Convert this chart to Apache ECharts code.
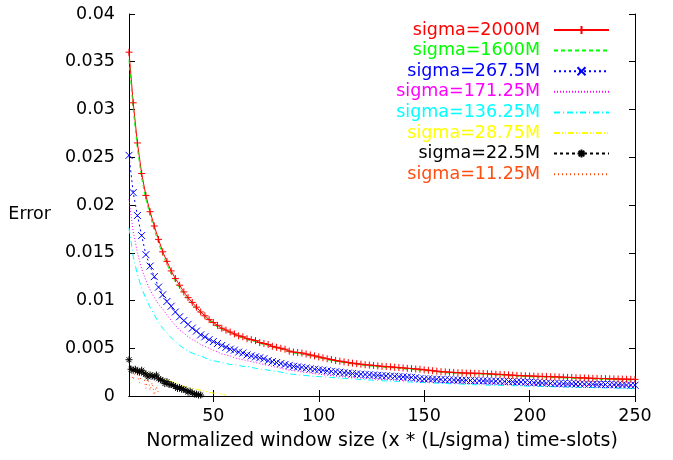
<!DOCTYPE html>
<html lang="en">
<head>
  <meta charset="UTF-8">
  <title>Error vs normalized window size</title>
  <script src="https://cdn.jsdelivr.net/npm/echarts@6.0.0/dist/echarts.min.js"></script>
  <style>
    html, body, #chart {
      width: 100%;
      height: 100%;
      margin: 0;
      padding: 0;
      background: #fff;
    }
  </style>
</head>
<body>
  <div id="chart"></div>
  <script>
    // x positions shared by the five large-sigma runs
    const xMain = [10, 12, 14, 16, 18, 20, 22, 24, 26, 28, 30, 32, 34, 36, 38, 40, 42, 44, 46, 48,
      50, 52, 54, 56, 58, 60, 62, 64, 66, 68, 70, 72, 74, 76, 78, 80, 82, 84, 86, 88,
      90, 92, 94, 96, 98, 100, 102, 104, 106, 108, 110, 112, 114, 116, 118, 120, 122, 124, 126, 128,
      130, 132, 134, 136, 138, 140, 142, 144, 146, 148, 150, 152, 154, 156, 158, 160, 162, 164, 166, 168,
      170, 172, 174, 176, 178, 180, 182, 184, 186, 188, 190, 192, 194, 196, 198, 200, 202, 204, 206, 208,
      210, 212, 214, 216, 218, 220, 222, 224, 226, 228, 230, 232, 234, 236, 238, 240, 242, 244, 246, 248, 250];

    const err2000 = [0.0360, 0.0307, 0.0265, 0.0233, 0.0210, 0.0193, 0.0178, 0.0164, 0.0151, 0.0141,
      0.0131, 0.0123, 0.0116, 0.0109, 0.0103, 0.0098, 0.0093, 0.0088, 0.0084, 0.0080,
      0.0077, 0.0074, 0.0071, 0.0069, 0.0067, 0.0065, 0.0063, 0.0062, 0.0060, 0.0059,
      0.0058, 0.0056, 0.0055, 0.0054, 0.0052, 0.0051, 0.0050, 0.0049, 0.0047, 0.0046,
      0.00455, 0.0045, 0.0044, 0.0043, 0.0042, 0.0041, 0.0040, 0.0039, 0.00382, 0.00372,
      0.00365, 0.00358, 0.0035, 0.00344, 0.00338, 0.00333, 0.00328, 0.00324, 0.0032, 0.00315,
      0.00311, 0.00308, 0.00305, 0.00301, 0.00298, 0.00294, 0.0029, 0.00287, 0.00283, 0.0028,
      0.00274, 0.0027, 0.00265, 0.0026, 0.00255, 0.00252, 0.00249, 0.00247, 0.00244, 0.00242,
      0.0024, 0.00239, 0.00238, 0.00237, 0.00235, 0.00233, 0.0023, 0.00228, 0.00226, 0.00224,
      0.0022, 0.00218, 0.00215, 0.00213, 0.00211, 0.0021, 0.00208, 0.00206, 0.00205, 0.00204,
      0.00202, 0.00201, 0.00199, 0.00197, 0.00195, 0.00194, 0.00192, 0.0019, 0.00189, 0.00187,
      0.00185, 0.00184, 0.00183, 0.00182, 0.0018, 0.00179, 0.00178, 0.00177, 0.00176, 0.00175, 0.00174];

    const err1600 = [0.0352, 0.0300, 0.0259, 0.0228, 0.0206, 0.0189, 0.0174, 0.0160, 0.0148, 0.0138,
      0.0128, 0.0120, 0.0113, 0.0107, 0.0101, 0.0096, 0.0091, 0.0086, 0.0082, 0.0079,
      0.0076, 0.0072, 0.0070, 0.0068, 0.0066, 0.0064, 0.0062, 0.0061, 0.0059, 0.0058,
      0.0057, 0.0055, 0.0054, 0.0053, 0.0051, 0.0050, 0.0049, 0.0048, 0.0046, 0.0045,
      0.00445, 0.0044, 0.0043, 0.0042, 0.0041, 0.0040, 0.0039, 0.0038, 0.00372, 0.00363,
      0.00356, 0.00349, 0.00341, 0.00335, 0.00329, 0.00324, 0.00319, 0.00315, 0.00311, 0.00306,
      0.00302, 0.00299, 0.00296, 0.00292, 0.00289, 0.00285, 0.00281, 0.00278, 0.00274, 0.00271,
      0.00266, 0.00262, 0.00257, 0.00252, 0.00247, 0.00244, 0.00241, 0.00239, 0.00236, 0.00234,
      0.00232, 0.00231, 0.0023, 0.00229, 0.00227, 0.00225, 0.00222, 0.0022, 0.00218, 0.00216,
      0.00212, 0.0021, 0.00207, 0.00205, 0.00203, 0.00202, 0.002, 0.00198, 0.00197, 0.00196,
      0.00194, 0.00193, 0.00191, 0.00189, 0.00187, 0.00186, 0.00184, 0.00182, 0.00181, 0.00179,
      0.00177, 0.00176, 0.00175, 0.00174, 0.00172, 0.00171, 0.0017, 0.00169, 0.00168, 0.00167, 0.00166];

    const err267 = [0.0252, 0.0213, 0.0189, 0.0168, 0.0148, 0.0136, 0.0125, 0.0114, 0.0106, 0.0099,
      0.0094, 0.0088, 0.0083, 0.0079, 0.0075, 0.0071, 0.0068, 0.0064, 0.0062, 0.0059,
      0.0057, 0.0055, 0.0053, 0.0051, 0.0049, 0.0048, 0.0046, 0.0045, 0.0043, 0.0042,
      0.0041, 0.0040, 0.0039, 0.0037, 0.0036, 0.0035, 0.0034, 0.0033, 0.0032, 0.0031,
      0.00305, 0.003, 0.00293, 0.00285, 0.0028, 0.00275, 0.0027, 0.00264, 0.00258, 0.00254,
      0.00249, 0.00244, 0.0024, 0.00235, 0.00232, 0.00228, 0.00225, 0.00222, 0.00219, 0.00216,
      0.00213, 0.00211, 0.00208, 0.00206, 0.00203, 0.002, 0.00198, 0.00195, 0.00192, 0.00182,
      0.00178, 0.0018, 0.00177, 0.00175, 0.00173, 0.00171, 0.0017, 0.00168, 0.00166, 0.00165,
      0.00164, 0.00162, 0.00161, 0.0016, 0.00158, 0.00157, 0.00156, 0.00155, 0.00153, 0.00152,
      0.00151, 0.0015, 0.00148, 0.00146, 0.00144, 0.00142, 0.0014, 0.00138, 0.00136, 0.00134,
      0.00132, 0.0013, 0.00129, 0.00128, 0.00127, 0.00127, 0.00126, 0.00125, 0.00124, 0.00123,
      0.00122, 0.00121, 0.00121, 0.0012, 0.00119, 0.00118, 0.00117, 0.00116, 0.00115, 0.00114, 0.00113];

    const err171 = [0.0206, 0.0172, 0.0150, 0.0133, 0.0121, 0.0111, 0.0103, 0.0096, 0.0091, 0.0085,
      0.0079, 0.0074, 0.0069, 0.0066, 0.0062, 0.0059, 0.0057, 0.0054, 0.0052, 0.0050,
      0.0048, 0.0046, 0.0044, 0.0043, 0.0042, 0.0040, 0.0039, 0.0038, 0.0037, 0.0036,
      0.0035, 0.0034, 0.0033, 0.0032, 0.0031, 0.0030, 0.0029, 0.0028, 0.0027, 0.00265,
      0.0026, 0.00252, 0.00246, 0.0024, 0.00234, 0.00228, 0.00223, 0.00218, 0.00213, 0.00209,
      0.00205, 0.00201, 0.00197, 0.00194, 0.00191, 0.00188, 0.00185, 0.00182, 0.00179, 0.00176,
      0.00173, 0.00171, 0.00168, 0.00166, 0.00164, 0.00161, 0.00159, 0.00157, 0.00155, 0.00153,
      0.00151, 0.00149, 0.00147, 0.00146, 0.00144, 0.00142, 0.00141, 0.0014, 0.00138, 0.00137,
      0.00136, 0.00134, 0.00133, 0.00132, 0.00131, 0.0013, 0.00129, 0.00128, 0.00127, 0.00126,
      0.00125, 0.00124, 0.00123, 0.00122, 0.00121, 0.0012, 0.00119, 0.00118, 0.00118, 0.00117,
      0.00116, 0.00115, 0.00114, 0.00114, 0.00113, 0.00112, 0.00111, 0.00111, 0.0011, 0.00109,
      0.00108, 0.00108, 0.00107, 0.00106, 0.00106, 0.00105, 0.00104, 0.00104, 0.00103, 0.00102, 0.00102];

    const err136 = [0.0176, 0.0146, 0.0127, 0.0113, 0.0102, 0.0093, 0.0085, 0.0077, 0.0071, 0.0066,
      0.0061, 0.0057, 0.0053, 0.0050, 0.0047, 0.0045, 0.0043, 0.0042, 0.0040, 0.0038,
      0.0037, 0.0036, 0.0035, 0.0034, 0.0033, 0.0033, 0.0032, 0.0031, 0.0031, 0.0030,
      0.0029, 0.0028, 0.0028, 0.0027, 0.0026, 0.0026, 0.0025, 0.0024, 0.0023, 0.00228,
      0.00222, 0.00218, 0.00214, 0.0021, 0.00206, 0.00203, 0.002, 0.00197, 0.00194, 0.00191,
      0.00188, 0.00185, 0.00182, 0.00179, 0.00176, 0.00173, 0.0017, 0.00167, 0.00165, 0.00162,
      0.0016, 0.00158, 0.00156, 0.00154, 0.00152, 0.0015, 0.00148, 0.00146, 0.00144, 0.00142,
      0.0014, 0.00138, 0.00136, 0.00134, 0.00133, 0.00131, 0.00129, 0.00128, 0.00126, 0.00124,
      0.00122, 0.0012, 0.00118, 0.00116, 0.00115, 0.00114, 0.00113, 0.00112, 0.00111, 0.0011,
      0.00109, 0.00108, 0.00107, 0.00106, 0.00104, 0.00103, 0.00102, 0.00101, 0.001, 0.00099,
      0.00098, 0.00097, 0.00096, 0.00095, 0.00094, 0.00093, 0.00092, 0.00091, 0.0009, 0.00089,
      0.00088, 0.00087, 0.00086, 0.00085, 0.00084, 0.00083, 0.00082, 0.00082, 0.00081, 0.0008, 0.0008];

    // small-sigma runs only cover the start of the range
    const xYellow = [10, 12, 14, 16, 18, 20, 22, 24, 26, 28, 30, 32, 34, 36, 38, 40, 42, 44, 46, 48, 50, 52, 54, 56];
    const err28 = [0.0027, 0.0026, 0.0027, 0.0025, 0.0024, 0.0024, 0.0023, 0.0021, 0.0019, 0.0017,
      0.0015, 0.0014, 0.0012, 0.0010, 0.0009, 0.0008, 0.0007, 0.0006, 0.0005, 0.0004,
      0.0003, 0.0003, 0.0002, 0.0001];

    const xBlack = [10, 11, 12, 13, 14, 15, 16, 17, 18, 19, 20, 21, 22, 23, 24, 25, 26, 27,
      28, 29, 30, 31, 32, 33, 34, 35, 36, 37, 38, 39, 40, 41, 42, 43, 44];
    const err22 = [0.0038, 0.0028, 0.0027, 0.0028, 0.0026, 0.0025, 0.0027, 0.0024, 0.0023, 0.0020,
      0.0022, 0.0021, 0.0020, 0.0022, 0.0018, 0.0017, 0.0016, 0.0013, 0.0015, 0.0012,
      0.0012, 0.0011, 0.0010, 0.0008, 0.0009, 0.0007, 0.0007, 0.0006, 0.0004, 0.0005,
      0.0003, 0.0002, 0.0002, 0.0001, 0.0001];

    const xOrange = [10, 11, 12, 13, 14, 15, 16, 17, 18, 19, 20, 21, 22, 23, 24];
    const err11 = [0.0027, 0.0025, 0.0017, 0.0026, 0.0024, 0.0014, 0.0023, 0.0021, 0.0008, 0.0020,
      0.0006, 0.0014, 0.0001, 0.0010, 0.0003];

    const names = ['sigma=2000M', 'sigma=1600M', 'sigma=267.5M', 'sigma=171.25M',
      'sigma=136.25M', 'sigma=28.75M', 'sigma=22.5M', 'sigma=11.25M'];
    const colors = ['#ff0000', '#00ff00', '#0000ff', '#ff00ff', '#00ffff', '#ffff00', '#000000', '#ff4f10'];
    const hasMarker = [true, false, true, false, false, false, true, false];
    const xTicks = [50, 100, 150, 200, 250];

    const PLUS = 'path://M0,5L10,5M5,0L5,10';
    const CROSS = 'path://M0,0L10,10M10,0L0,10';
    const STAR = 'path://M5,0L5,10M0,5L10,5M1.5,1.5L8.5,8.5M8.5,1.5L1.5,8.5';

    const FONT = 'DejaVu Sans';
    const FS = 17.5;

    function pairs(xs, ys) {
      return xs.map((x, i) => [x, ys[i]]);
    }

    function line(i, xs, ys, dash, symbol) {
      return {
        name: names[i],
        type: 'line',
        data: pairs(xs, ys),
        symbol: symbol || 'none',
        symbolSize: 7,
        showSymbol: !!symbol,
        silent: true,
        color: colors[i],
        itemStyle: { color: colors[i], borderColor: colors[i], borderWidth: 1 },
        lineStyle: { color: colors[i], width: 1, type: dash }
      };
    }

    const chart = echarts.init(document.getElementById('chart'));

    const tickStyle = { inside: true, length: 6, lineStyle: { color: '#000' } };

    chart.setOption({
      animation: false,
      backgroundColor: '#fff',
      textStyle: { fontFamily: FONT },
      grid: { left: 129, right: 38, top: 14, bottom: 64, outerBoundsMode: 'none' },
      legend: {
        orient: 'vertical',
        align: 'right',
        right: 63,
        top: 20,
        padding: 0,
        itemWidth: 55,
        itemHeight: 10,
        itemGap: 0.6,
        selectedMode: false,
        textStyle: { fontFamily: FONT, fontSize: FS, lineHeight: 20, padding: [0, 9, 0, 0] },
        data: names.map((n, i) => ({
          name: n,
          textStyle: { color: colors[i] },
          itemStyle: hasMarker[i] ? {} : { opacity: 0 }
        }))
      },
      xAxis: [
        {
          type: 'value',
          min: 10,
          max: 250,
          name: 'Normalized window size (x * (L/sigma) time-slots)',
          nameLocation: 'middle',
          nameGap: 36,
          nameTextStyle: { fontSize: 19, color: '#000', fontFamily: FONT },
          axisLine: { lineStyle: { color: '#000' } },
          axisTick: Object.assign({ customValues: xTicks }, tickStyle),
          axisLabel: { customValues: xTicks, fontSize: FS, color: '#000', margin: 11, fontFamily: FONT },
          splitLine: { show: false }
        },
        {
          type: 'value',
          position: 'top',
          min: 10,
          max: 250,
          axisLine: { lineStyle: { color: '#000' } },
          axisTick: Object.assign({ customValues: xTicks }, tickStyle),
          axisLabel: { show: false },
          splitLine: { show: false }
        }
      ],
      yAxis: [
        {
          type: 'value',
          min: 0,
          max: 0.04,
          interval: 0.005,
          name: 'Error',
          nameLocation: 'middle',
          nameRotate: 0,
          nameGap: 78,
          nameTextStyle: { fontSize: FS, color: '#000', fontFamily: FONT, verticalAlign: 'top' },
          axisLine: { show: true, lineStyle: { color: '#000' } },
          axisTick: tickStyle,
          axisLabel: { fontSize: FS, color: '#000', margin: 14, fontFamily: FONT },
          splitLine: { show: false }
        },
        {
          type: 'value',
          position: 'right',
          min: 0,
          max: 0.04,
          interval: 0.005,
          axisLine: { show: true, lineStyle: { color: '#000' } },
          axisTick: tickStyle,
          axisLabel: { show: false },
          splitLine: { show: false }
        }
      ],
      series: [
        line(0, xMain, err2000, 'solid', PLUS),
        line(1, xMain, err1600, [4, 3]),
        line(2, xMain, err267, [2, 3], CROSS),
        line(3, xMain, err171, [1, 2]),
        line(4, xMain, err136, [6, 3, 1, 3]),
        line(5, xYellow, err28, [6, 2, 1, 2, 1, 2]),
        line(6, xBlack, err22, [3, 3], STAR),
        line(7, xOrange, err11, [1, 3])
      ]
    });
  </script>
</body>
</html>
